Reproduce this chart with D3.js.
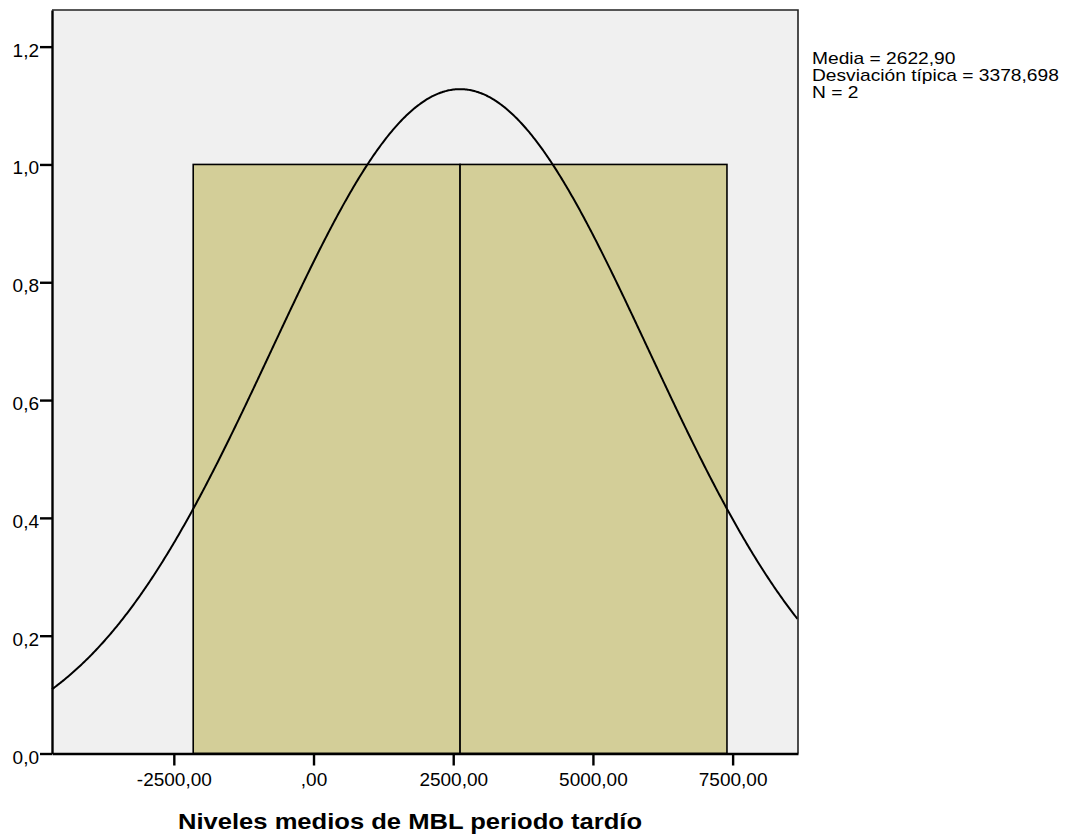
<!DOCTYPE html>
<html>
<head>
<meta charset="utf-8">
<script src="https://cdn.jsdelivr.net/npm/d3@7"></script>
<style>
  body { margin: 0; background: #ffffff; }
  svg { display: block; }
  text { font-family: Arial, "Liberation Sans", sans-serif; fill: #000; }
</style>
</head>
<body>
<svg id="chart" width="1070" height="838"></svg>
<script>
// Histogram of "Niveles medios de MBL periodo tardío" with fitted normal curve
const binEdges = [-2153, 2622.9, 7398.8];
const binCounts = [1, 1];
const mean = 2622.90;
const stdDev = 3378.698;
const n = 2;

const xTicks = [-2500, 0, 2500, 5000, 7500];
const xTickLabels = ["-2500,00", ",00", "2500,00", "5000,00", "7500,00"];
const yTicks = [0, 0.2, 0.4, 0.6, 0.8, 1.0, 1.2];
const yTickLabels = ["0,0", "0,2", "0,4", "0,6", "0,8", "1,0", "1,2"];
const statLines = ["Media = 2622,90", "Desviación típica = 3378,698", "N = 2"];
const xTitle = "Niveles medios de MBL periodo tardío";

const plot = { left: 52, right: 798, top: 10, bottom: 753.5 };

const svg = d3.select("#chart");

const x = d3.scaleLinear().domain([-4680, 8670]).range([plot.left, plot.right]);
const y = d3.scaleLinear().domain([0, 1.2622]).range([plot.bottom, plot.top]);

// Plot background
svg.append("rect")
  .attr("x", plot.left).attr("y", plot.top)
  .attr("width", plot.right - plot.left).attr("height", plot.bottom - plot.top)
  .attr("fill", "#f0f0f0");

// Bars
const bins = binCounts.map((c, i) => ({ x0: binEdges[i], x1: binEdges[i + 1], count: c }));
svg.append("g").selectAll("rect").data(bins).join("rect")
  .attr("x", d => x(d.x0))
  .attr("y", d => y(d.count))
  .attr("width", d => x(d.x1) - x(d.x0))
  .attr("height", d => y(0) - y(d.count))
  .attr("fill", "#d3ce98")
  .attr("stroke", "#000")
  .attr("stroke-width", 1.6);

// Normal curve scaled to counts: n * binWidth * pdf
const binWidth = binEdges[1] - binEdges[0];
const pdf = v => Math.exp(-0.5 * Math.pow((v - mean) / stdDev, 2)) / (stdDev * Math.sqrt(2 * Math.PI));
const xs = d3.range(x.domain()[0], x.domain()[1] + 1, 20);
const curve = d3.line()
  .x(v => x(v))
  .y(v => y(n * binWidth * pdf(v)))
  .curve(d3.curveBasis);
svg.append("path")
  .datum(xs)
  .attr("d", curve)
  .attr("fill", "none")
  .attr("stroke", "#000")
  .attr("stroke-width", 2);

// Frame: top and right edges
svg.append("path")
  .attr("d", `M${plot.left},${plot.top}H${plot.right}V${plot.bottom}`)
  .attr("fill", "none")
  .attr("stroke", "#222")
  .attr("stroke-width", 1.6);

// Y axis
const yAxis = d3.axisLeft(y)
  .tickValues(yTicks)
  .tickFormat((d, i) => yTickLabels[i])
  .tickSize(12)
  .tickPadding(1)
  .tickSizeOuter(0);
const gy = svg.append("g").attr("transform", `translate(${plot.left},0)`).call(yAxis);
gy.select(".domain").attr("stroke", "#000").attr("stroke-width", 2.4);
gy.selectAll(".tick line").attr("stroke", "#000").attr("stroke-width", 2.4);
gy.selectAll(".tick text")
  .attr("font-size", 19)
  .attr("font-family", "Arial, 'Liberation Sans', sans-serif")
  .attr("dy", "0.5em");

// X axis
const xAxis = d3.axisBottom(x)
  .tickValues(xTicks)
  .tickFormat((d, i) => xTickLabels[i])
  .tickSize(12)
  .tickPadding(7)
  .tickSizeOuter(0);
const gx = svg.append("g").attr("transform", `translate(0,${plot.bottom})`).call(xAxis);
gx.select(".domain").attr("stroke", "#000").attr("stroke-width", 2.4);
gx.selectAll(".tick line").attr("stroke", "#000").attr("stroke-width", 2.4);
gx.selectAll(".tick text")
  .attr("font-size", 19)
  .attr("font-family", "Arial, 'Liberation Sans', sans-serif");

// Axis title
svg.append("text")
  .attr("x", 410)
  .attr("y", 829)
  .attr("text-anchor", "middle")
  .attr("font-size", 22)
  .attr("font-weight", "bold")
  .attr("textLength", 464)
  .attr("lengthAdjust", "spacingAndGlyphs")
  .text(xTitle);

// Summary statistics, horizontally widened glyphs
svg.append("g")
  .attr("transform", "translate(812,0) scale(1.2,1)")
  .selectAll("text").data(statLines).join("text")
  .attr("x", 0)
  .attr("y", (d, i) => 64.5 + i * 17)
  .attr("font-size", 16)
  .text(d => d);
</script>
</body>
</html>
